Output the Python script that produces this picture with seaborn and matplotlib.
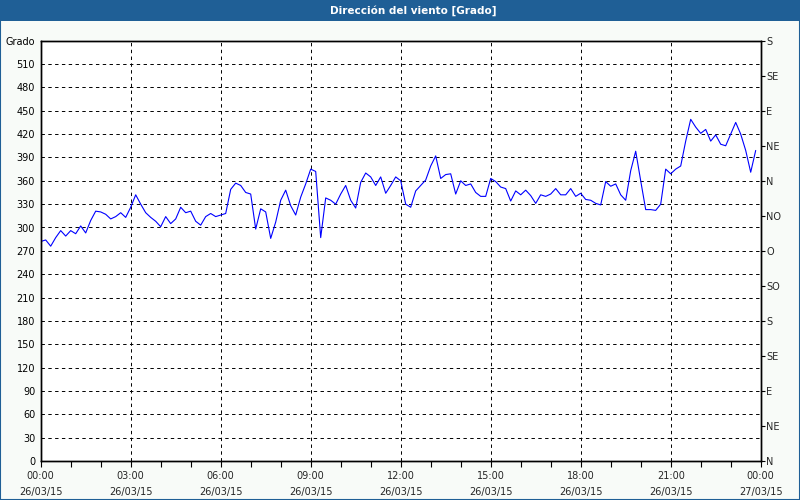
import pandas as pd
import matplotlib
matplotlib.use("Agg")
import matplotlib.pyplot as plt
import matplotlib.dates as mdates
from matplotlib.patches import Rectangle
import seaborn as sns

titulo = "Dirección del viento [Grado]"
inicio = "2015-03-26 00:00"
fin = "2015-03-27 00:00"

# Dirección cada 10 minutos (grados)
grado = [
    282, 284, 276, 287, 296, 289, 296, 292, 302, 293, 309, 321, 320, 317, 311, 314, 319, 313,
    326, 342, 330, 319, 313, 308, 301, 314, 305, 311, 326, 319, 321, 308, 303, 314, 318, 314,
    316, 318, 349, 357, 354, 345, 343, 298, 324, 320, 286, 307, 335, 348, 328, 316, 339, 356,
    375, 372, 287, 338, 335, 330, 343, 354, 335, 325, 358, 370, 365, 354, 365, 344, 354, 365,
    360, 330, 326, 347, 354, 361, 379, 392, 363, 368, 369, 343, 360, 354, 356, 345, 340, 340,
    363, 359, 352, 350, 334, 347, 342, 348, 341, 331, 342, 340, 343, 350, 342, 342, 350, 340,
    344, 336, 335, 331, 329, 359, 353, 356, 342, 335, 373, 398, 360, 323, 323, 322, 330, 375,
    369, 375, 379, 411, 439, 429, 421, 426, 411, 419, 407, 405, 420, 435, 420, 399, 371, 399,
]

grado_ticks = list(range(0, 540, 30))
rumbo_ticks = list(range(0, 541, 45))
rumbo_labels = ["N", "NE", "E", "SE", "S", "SO", "O", "NO", "N", "NE", "E", "SE", "S"]

df = pd.DataFrame({
    "tiempo": pd.date_range(inicio, periods=len(grado), freq="10min"),
    "grado": grado,
})

azul = "#1f5f96"
fondo = "#f8fbf8"

sns.set_style("white")
plt.rcParams["font.family"] = ["DejaVu Sans"]
plt.rcParams["font.size"] = 7

fig = plt.figure(figsize=(8, 5), dpi=100, facecolor=fondo)
ax = fig.add_axes([40.7 / 800, 39 / 500, 720 / 800, (461 - 40.7) / 500])
ax.set_facecolor("white")

sns.lineplot(data=df, x="tiempo", y="grado", color="#0000ff", lw=0.8, ax=ax)

ax.set_xlim(pd.Timestamp(inicio), pd.Timestamp(fin))
ax.set_ylim(0, 540)
ax.set_xlabel("")
ax.set_ylabel("")

ax.set_yticks(grado_ticks + [540])
ax.set_yticklabels([str(v) for v in grado_ticks] + ["Grado"])
ax.tick_params(axis="y", length=0, pad=4, labelcolor="black")

ax.xaxis.set_major_locator(mdates.HourLocator(byhour=range(0, 24, 3)))
ax.xaxis.set_minor_locator(mdates.HourLocator())
ax.xaxis.set_major_formatter(mdates.DateFormatter("%H:%M\n%d/%m/%y"))
ax.tick_params(axis="x", which="both", direction="out", length=4, width=0.8,
               color="black", pad=3, bottom=True)

ax.set_axisbelow(True)
ax.grid(True, which="major", color="black", ls=(0, (3.5, 3.5)), lw=0.7)
for s in ax.spines.values():
    s.set_color("black")
    s.set_linewidth(1)

ax2 = ax.twinx()
ax2.set_ylim(0, 540)
ax2.set_yticks(rumbo_ticks)
ax2.set_yticklabels(rumbo_labels)
ax2.tick_params(axis="y", direction="out", length=3, width=0.8, color="black", pad=1)
for s in ax2.spines.values():
    s.set_color("black")
    s.set_linewidth(1)

# barra de título y marco
fig.add_artist(Rectangle((0, 1 - 21 / 500), 1, 21 / 500, transform=fig.transFigure,
                         facecolor=azul, edgecolor="none"))
fig.text(0.517, 1 - 10.5 / 500, titulo, color="white", fontweight="bold",
         fontsize=7.5, ha="center", va="center")
fig.add_artist(Rectangle((0, 0), 1, 1, transform=fig.transFigure, fill=False,
                         edgecolor=azul, lw=1.5))

fig.canvas.draw()
for t in ax.get_xticklabels():
    t.set_linespacing(1.75)

fig.savefig("out.png", dpi=100, facecolor=fig.get_facecolor())
